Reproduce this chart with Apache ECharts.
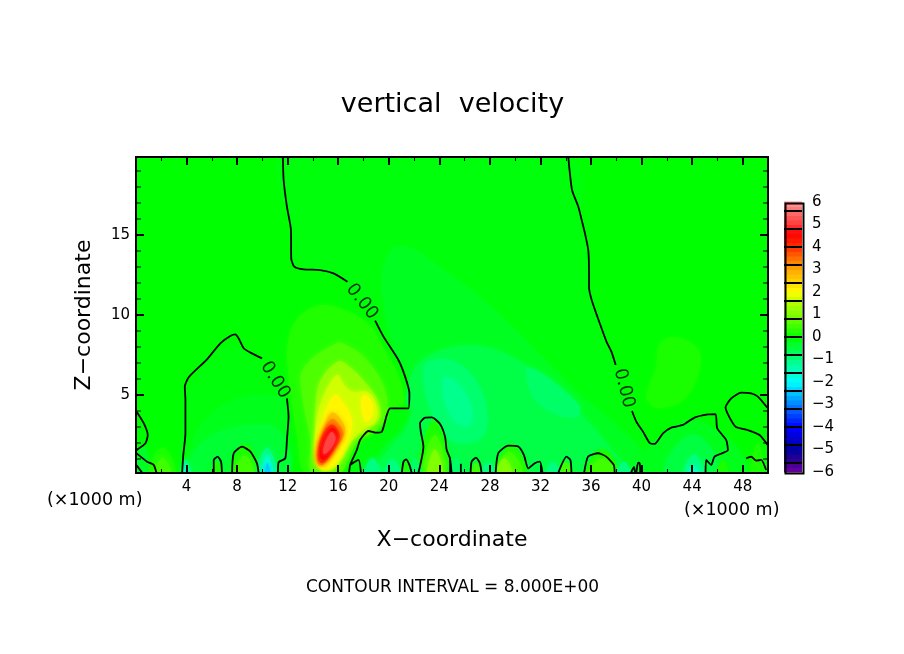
<!DOCTYPE html>
<html><head><meta charset="utf-8">
<style>html,body{margin:0;padding:0;background:#fff}#c{width:904px;height:654px}</style>
<script src="https://cdn.jsdelivr.net/npm/echarts@6/dist/echarts.min.js"></script>
</head><body><div id="c"></div>
<script>
// colour scale
const scaleValues=[-6,-5.5,-5,-4.5,-4,-3.5,-3,-2.5,-2,-1.5,-1,-0.5,0,0.5,1,1.5,2,2.5,3,3.5,4,4.6,5,5.5,6];
const scaleColors=['#7000a0','#300090','#0000a0','#0000d0','#0000ff','#0040ff','#0080ff','#00c0ff','#00ffff','#00ffc0','#00ff80','#00ff40','#00ff00','#40ff00','#80ff00','#b0ff00','#ffff00','#ffd000','#ffa800','#ff7000','#ff3000','#ff0000','#ff3838','#ff6868','#ff9a9a'];
const legendEdges=[-5.6,-4.8,-4,-3.2,-2.4,-1.6,-0.8,0,0.8,1.6,2.4,3.2,4,4.8,5.6];
const legendLabels=[-6,-5,-4,-3,-2,-1,0,1,2,3,4,5,6];
const xTickLabels=[4,8,12,16,20,24,28,32,36,40,44,48];
const zTickLabels=[5,10,15];
const zMinor=[1,2,3,4,6,7,8,9,11,12,13,14,16,17,18,19];

// filled bands: [level, outline of [x (km), z (km)]]
const negA=[[11.7,19.875],[12.3,15],[12.3,13.4],[13,12.9],[15.6,12.6],[18.9,9.6],[21.3,6.2],[21.7,5],[21.5,4.2],[20,4],[19.4,2.7],[18.4,2.7],[17,.6],[16.9,.125],[40.5,.125],[40.6,2],[39.2,4],[37.6,7.7],[36,11],[35.5,15],[34.2,19.875]];
const negB=[[19.5,12.7],[20.3,14.1],[21.7,14.2],[24.1,12.9],[27.2,11.1],[30.4,8.75],[34.3,5.6],[37.5,3.4],[39.9,1.6],[41,.125],[18.7,.125],[19.7,1.9],[20.9,2.8],[21.8,4.1],[21.8,5.6],[20.5,7.8],[19.7,10.3]];
const negC=[[21.3,4.7],[22.5,7.1],[26.4,8.1],[30.4,7.1],[34.3,4.4],[36.7,2.5],[38.4,.125],[19.1,.125],[20.3,1.9],[21.3,2.8],[21.8,4.1]];
const negD=[[22.9,6.9],[25.2,7.1],[27.1,5.6],[27.8,3.4],[27.1,2.2],[24.8,2.2],[23.3,4.1]];
const negD2=[[30.9,6.6],[32,6.4],[35,4.4],[35,3.7],[33.5,3.75],[31.6,4.7]];
const negE=[[24.4,6.1],[25.6,5.6],[26.6,4.1],[26.3,3.1],[25.2,3.4],[24.4,4.7]];
const archA=[[4,.125],[4,4.7],[5.1,6.6],[7.4,8.1],[10,6.9],[11.8,5],[12,.125]];
const archB=[[4.3,.125],[4.4,1.9],[5.5,3.4],[7.8,4.7],[10.6,5],[11.8,4.7],[11.9,2.2],[11.8,.125]];
const archC=[[4.3,.125],[4.7,1.6],[7,2.8],[10.6,3.1],[11.8,2.2],[12,.125]];
const plumeA=[[14.6,10.6],[16.5,10.3],[18.4,9.4],[19.7,7.8],[20.9,5.9],[21.1,4.4],[19.7,4.1],[19.1,2.8],[17.6,2.4],[16.5,.6],[16,.125],[13.4,.125],[12.8,2.2],[12.2,5.3],[12,8.1],[12.8,9.8]];
const plumeB=[[15.9,8.25],[16.9,8],[18,7.4],[19.5,5.75],[19.9,4.1],[19.3,3],[17.5,2],[16.4,.3],[16.1,.125],[13.9,.125],[13.8,2.2],[13.2,4.7],[13.2,6.6]];
const plumeC=[[16,7.1],[16.9,6.75],[18,5.9],[19.1,4.7],[19.3,3.6],[18.5,2.9],[17.2,2.2],[15.9,.6],[14.4,.5],[14.2,2.2],[14.2,4.25],[14.6,5.9]];
const plumeD=[[15.9,6.25],[16.5,5.6],[17.1,5.2],[18.3,5.2],[19,4.4],[19,3.4],[17.9,2.8],[17.1,2.2],[15.7,.45],[14.7,.3],[14.2,.95],[14.2,2.8],[14.7,4.7]];
const plumeE=[[15.7,5],[16.5,4.4],[17.1,3.4],[16.8,2.2],[15.6,.6],[14.7,.4],[14.2,1.25],[14.6,3.1]];
const sideLobe=[[18.1,5],[18.7,4.5],[18.7,3.75],[18.2,3.3],[17.9,3.9],[17.8,4.7]];
const plumeF=[[15.5,3.9],[16.4,3.25],[16.5,2.6],[15.9,1.75],[14.8,.6],[14.4,.6],[14.3,1.4],[14.7,2.6]];
const plumeG=[[15.5,3.5],[16.2,3],[16.4,2.5],[15.7,1.6],[14.8,.65],[14.4,.75],[14.35,1.4],[14.75,2.6]];
const plumeH=[[15.5,3.15],[16,2.75],[16.1,2.3],[15.4,1.3],[14.75,.75],[14.45,.95],[14.55,2],[15,2.8]];
const plumeI=[[15.5,2.95],[15.95,2.5],[15.5,1.55],[14.85,.95],[14.55,1.2],[14.8,2.2]];
const plumeJ=[[15.5,2.7],[15.8,2.25],[15.35,1.6],[14.85,1.3],[14.85,1.75],[15.15,2.35]];
const rightLobe=[[42.8,8.6],[44.5,7.8],[44.5,6.4],[43.3,4.7],[41.2,4.2],[40.4,4.9],[41.1,6.6],[41.5,8.25]];
// bumps on the ground: [level, left x, right x, height z]
const groundBumps=[[-.3,0,1.1,1.9],[-.2,39.9,48.2,3.4],[-.5,41.9,46.2,2.5],[-1,43.4,44.9,1.25],[-1.5,43.7,44.5,.6],
[.2,1.1,3.1,1.7],[.5,1.5,2.7,1.06],[.2,7.6,9.65,1.9],[.5,7.9,9.3,1.2],[.2,22.5,24.7,3.4],[.5,22.8,24.5,2.5],[1,23.1,24.2,1.6],
[.2,28.6,30.8,1.9],[.5,28.6,30.5,1.45],[1,28.6,29.7,1.05],[.5,26.6,27.2,.8],[.5,33.5,34.5,.8],[.2,35.7,38.1,1.6],[.5,35.9,37.9,1.05],
[.2,48.7,49.7,2],[.2,46,46.8,.9],[.2,6,6.8,.8],[.2,20.9,21.7,.9],
[-1,9.65,11.1,1.7],[-1.6,10,10.8,1.25],[-2.4,10.2,10.6,.75],[-1,3.6,4.3,.95],[-1.6,3.75,4.1,.55],[-1,18.1,19.3,1.05],[-1,19.7,20.9,.95],
[-.8,21.7,22.5,1.05],[-.8,24.8,25.8,1.05],[-1,27.4,28.4,.8],[-1,32.5,33.5,.8],[-1,38.1,39.1,.8]];
const bandList=[[-.08,negA],[-.25,negB],[-.55,negC],[-.85,negD],[-.8,negD2],[-1.1,negE],[-.08,archA],[-.2,archB],[-.4,archC],
[.25,plumeA],[.6,plumeB],[1.2,plumeC],[1.7,plumeD],[2.1,plumeE],[2.1,sideLobe],[2.7,plumeF],[3.3,plumeG],[4,plumeH],[4.6,plumeI],[5.1,plumeJ],[.2,rightLobe]];

// zero contour pieces, broken where the 0.00 labels sit
const c1a=[[3.65,.125],[3.73,1.15],[3.91,2.61],[3.91,4.69],[3.86,5.52],[4.17,6.11],[5.62,7.23],[6.67,8.23],[7.46,8.69],[7.86,8.79],[8.12,8.54],[8.52,7.92],[9.05,7.65],[9.97,7.29]];
const c1b=[[11.94,4.79],[12.07,3.65],[11.94,2.19],[11.81,1.04],[11.28,.79],[11.23,.125]];
const c2a=[[11.62,19.875],[11.68,18.44],[11.94,16.77],[12.26,15.31],[12.28,13.54],[12.52,13.02],[13.26,12.85],[14.57,12.81],[15.63,12.6],[16.73,12.08]];
const c2b=[[18.92,9.65],[19.58,8.65],[20.76,7.19],[21.29,6.15],[21.63,5.11],[21.55,4.17],[20.1,4.17],[19.84,3.75],[19.45,2.71],[18.92,2.65],[18.39,2.75],[17.73,2.19],[17.47,1.56],[16.94,.63],[16.86,.125]];
const c2c=[[16.94,.63],[17.6,.94],[17.8,.125]];
const c3a=[[34.2,19.875],[34.3,19.06],[34.5,17.8],[35,16.75],[35.26,15.94],[35.52,15.1],[35.78,14.06],[35.84,12.6],[35.84,11.75],[36.05,10.94],[36.69,9.48],[37.22,8.34],[37.61,7.71],[37.95,6.88]];
const c3b=[[39.24,4],[39.58,3.34],[40.11,2.71],[40.64,2],[41.03,1.94],[41.69,2.6],[42.35,2.96],[43.27,3.13],[44.19,3.59],[45.25,3.79],[45.85,3.81],[45.98,2.92],[46.69,2.19],[46.83,1.56],[45.77,1.15],[45.51,.63],[45.11,.94],[45.06,.125]];
const c4=[[49.95,4.2],[49.2,4.9],[48.67,5.1],[47.88,5.15],[47.09,4.79],[46.64,4.23],[47.43,3.02],[48.4,2.81],[49.33,2.5],[49.95,1.9]];
const c5=[[48.27,1.04],[48.67,1.15],[49.06,.9],[49.46,.94],[49.85,.31]];
const c6=[[.05,3.96],[.62,3.23],[.93,2.5],[.75,1.98],[.05,1.56]];
const c7=[[.05,1.35],[.88,.83],[1.4,.63],[1.62,.125]];
const c8=[[.05,.6],[.5,.125]];
const bumpLines=[
[[6.15,.125],[6.15,.94],[6.46,1.15],[6.73,.83],[6.8,.125]],
[[7.6,.125],[7.73,1.36],[8.39,1.77],[9.05,1.46],[9.57,.73],[9.7,.125]],
[[21.03,.125],[21.16,.83],[21.37,.98],[21.63,.63],[21.81,.125]],
[[22.34,.125],[22.74,1.77],[22.53,2.71],[22.47,3.23],[22.87,3.58],[23.4,3.6],[24.05,3.19],[24.45,2.4],[24.58,1.56],[24.84,1.04],[24.97,.125]],
[[26.47,.125],[26.55,.83],[26.9,1.09],[27.21,.73],[27.34,.125]],
[[28.45,.125],[28.66,1.36],[29.45,1.84],[30.24,1.78],[30.69,1.25],[31.03,.42],[31.55,.73],[31.95,.83],[32.16,.125]],
[[33.4,.125],[34.06,1.15],[34.37,.94],[34.45,.125]],
[[35.45,.125],[35.77,1.15],[36.56,1.36],[37.2,1.15],[37.8,.63],[37.87,.125]],
[[39.58,.125],[39.72,.77],[39.85,.73],[39.9,.125]],
[[39.15,.125],[39.4,.5],[39.5,.125]],
[[25.7,.125],[25.7,.7]],
[[24.85,.125],[24.85,1.1]]
];
const contourLines=[c1a,c1b,c2a,c2b,c2c,c3a,c3b,c4,c5,c6,c7,c8].concat(bumpLines);
// 0.00 labels: x, z, rotation
const contourLabels=[[11,5.94,-58],[17.87,10.83,-52],[38.6,5.42,-76]];

const titleText='vertical  velocity';
const xName='X\u2212coordinate';
const zName='Z\u2212coordinate';
const intervalText='CONTOUR INTERVAL = 8.000E+00';
const unitText='(\u00d71000 m)';

function hex(c){return [1,3,5].map(i=>parseInt(c.substr(i,2),16));}
function colorOf(v){
  if(v<=scaleValues[0])return scaleColors[0];
  for(let i=1;i<scaleValues.length;i++){
    if(v<=scaleValues[i]){
      const t=(v-scaleValues[i-1])/(scaleValues[i]-scaleValues[i-1]);
      const a=hex(scaleColors[i-1]),b=hex(scaleColors[i]);
      return 'rgb('+a.map((q,k)=>Math.round(q+(b[k]-q)*t)).join(',')+')';
    }
  }
  return scaleColors[scaleColors.length-1];
}
const bumpBands=groundBumps.map(b=>{const w=b[2]-b[1];return [b[0],[[b[1],.125],[b[1]+.12*w,b[3]*.6],[(b[1]+b[2])/2,b[3]],[b[2]-.12*w,b[3]*.6],[b[2],.125]]];});
const allBands=[[0,[[0,.125],[50,.125],[50,19.875],[0,19.875]]]].concat(bandList,bumpBands);
const FONT='DejaVu Sans';
const legendCells=[];
for(let i=0;i<60;i++)legendCells.push(-6+i*0.2);

const series=[{
  type:'custom',xAxisIndex:0,yAxisIndex:0,clip:true,silent:true,z:1,
  data:allBands.map((b,i)=>[i]),
  encode:{x:[],y:[]},
  renderItem:function(p,api){
    const i=api.value(0);
    const b=allBands[i];
    const pts=b[1].map(q=>api.coord(q));
    const col=colorOf(b[0]);
    return {type:'polygon',shape:{points:pts,smooth:i===0?0:0.35},style:{fill:col,shadowBlur:i===0?0:5,shadowColor:col}};
  }
}];
contourLines.forEach(l=>series.push({type:'line',xAxisIndex:0,yAxisIndex:0,data:l,symbol:'none',silent:true,z:3,clip:true,smooth:0.2,lineStyle:{color:'#000',width:1.8}}));
// short z ticks inside both frame sides
series.push({type:'custom',xAxisIndex:0,yAxisIndex:0,silent:true,z:5,clip:false,
  data:zMinor.map(v=>[0,v]),encode:{x:0,y:1},
  renderItem:function(p,api){
    const z=api.value(1);
    const a=api.coord([0,z]),b=api.coord([50,z]);
    const st={stroke:'#000',lineWidth:1};
    return {type:'group',children:[
      {type:'line',shape:{x1:a[0],y1:a[1],x2:a[0]+5,y2:a[1]},style:st},
      {type:'line',shape:{x1:b[0]-5,y1:b[1],x2:b[0],y2:b[1]},style:st}]};
  }});
series.push({type:'scatter',xAxisIndex:0,yAxisIndex:0,symbolSize:0,silent:true,z:4,
  data:contourLabels.map(l=>({value:[l[0],l[1]],label:{rotate:l[2]}})),
  label:{show:true,position:'inside',formatter:'0.00',color:'#000',fontFamily:FONT,fontSize:18}});
series.push({type:'custom',xAxisIndex:2,yAxisIndex:2,silent:true,z:1,
  data:legendCells.map(v=>[0,v]),encode:{x:0,y:1},
  renderItem:function(p,api){
    const v=api.value(1);
    const a=api.coord([0,v]),b=api.coord([1,v+0.2]);
    return {type:'rect',shape:{x:a[0],y:b[1]-0.5,width:b[0]-a[0],height:a[1]-b[1]+1},style:{fill:colorOf(v+0.1)}};
  }});
legendEdges.forEach(e=>series.push({type:'line',xAxisIndex:2,yAxisIndex:2,data:[[0,e],[1,e]],symbol:'none',silent:true,z:3,lineStyle:{color:'#000',width:2}}));

const L=136,R=904-768,T=157,B=654-473;
const lineS={show:true,onZero:false,lineStyle:{color:'#000',width:2}};
const txt={color:'#000',fontFamily:FONT,fontSize:15};
const chart=echarts.init(document.getElementById('c'),null,{renderer:'canvas'});
chart.setOption({
  animation:false,backgroundColor:'#fff',
  title:[{text:titleText,left:447.5,top:86,textAlign:'center',textStyle:{color:'#000',fontFamily:FONT,fontSize:27,fontWeight:'normal'}},
         {text:intervalText,left:447.5,top:574,textAlign:'center',textStyle:{color:'#000',fontFamily:FONT,fontSize:17,fontWeight:'normal'}}],
  grid:[{left:L,right:R,top:T,bottom:B},{left:784,width:18,top:202,height:270}],
  xAxis:[
    {gridIndex:0,z:6,type:'value',min:0,max:50,interval:4,position:'bottom',axisLine:lineS,splitLine:{show:false},
     axisTick:{show:true,inside:true,length:8,lineStyle:{color:'#000',width:2}},
     minorTick:{show:true,splitNumber:2,length:4,lineStyle:{color:'#000',width:1}},
     axisLabel:Object.assign({},txt,{margin:7,customValues:xTickLabels}),
     name:xName,nameLocation:'middle',nameGap:56,nameTextStyle:{color:'#000',fontFamily:FONT,fontSize:22}},
    {gridIndex:0,z:6,type:'value',min:0,max:50,interval:4,position:'top',axisLine:lineS,splitLine:{show:false},
     axisTick:{show:true,inside:true,length:8,lineStyle:{color:'#000',width:2}},
     minorTick:{show:true,splitNumber:2,length:4,lineStyle:{color:'#000',width:1}},axisLabel:{show:false}},
    {gridIndex:1,type:'value',min:0,max:1,show:false}
  ],
  yAxis:[
    {gridIndex:0,z:6,type:'value',min:.125,max:19.875,position:'left',axisLine:lineS,splitLine:{show:false},
     axisTick:{show:true,inside:true,length:8,customValues:zTickLabels,lineStyle:{color:'#000',width:2}},
     axisLabel:Object.assign({},txt,{margin:6,customValues:zTickLabels}),
     name:zName,nameLocation:'middle',nameGap:41,nameTextStyle:{color:'#000',fontFamily:FONT,fontSize:22}},
    {gridIndex:0,z:6,type:'value',min:.125,max:19.875,position:'right',axisLine:lineS,splitLine:{show:false},
     axisTick:{show:true,inside:true,length:8,customValues:zTickLabels,lineStyle:{color:'#000',width:2}},axisLabel:{show:false}},
    {gridIndex:1,type:'value',min:-6,max:6,interval:1,position:'right',
     axisLine:{show:false},axisTick:{show:false},splitLine:{show:false},
     axisLabel:Object.assign({},txt,{margin:10,customValues:legendLabels,formatter:v=>String(v).replace('-','\u2212')})}
  ],
  graphic:[
    {type:'text',left:47,top:491,style:{text:unitText,fill:'#000',font:'17.5px "DejaVu Sans"'}},
    {type:'text',left:684,top:501,style:{text:unitText,fill:'#000',font:'17.5px "DejaVu Sans"'}},
    {type:'rect',left:783,top:201,shape:{x:0,y:0,width:18,height:270},style:{fill:'none',stroke:'#000',lineWidth:2},z:10}
  ],
  series:series
});
</script></body></html>
